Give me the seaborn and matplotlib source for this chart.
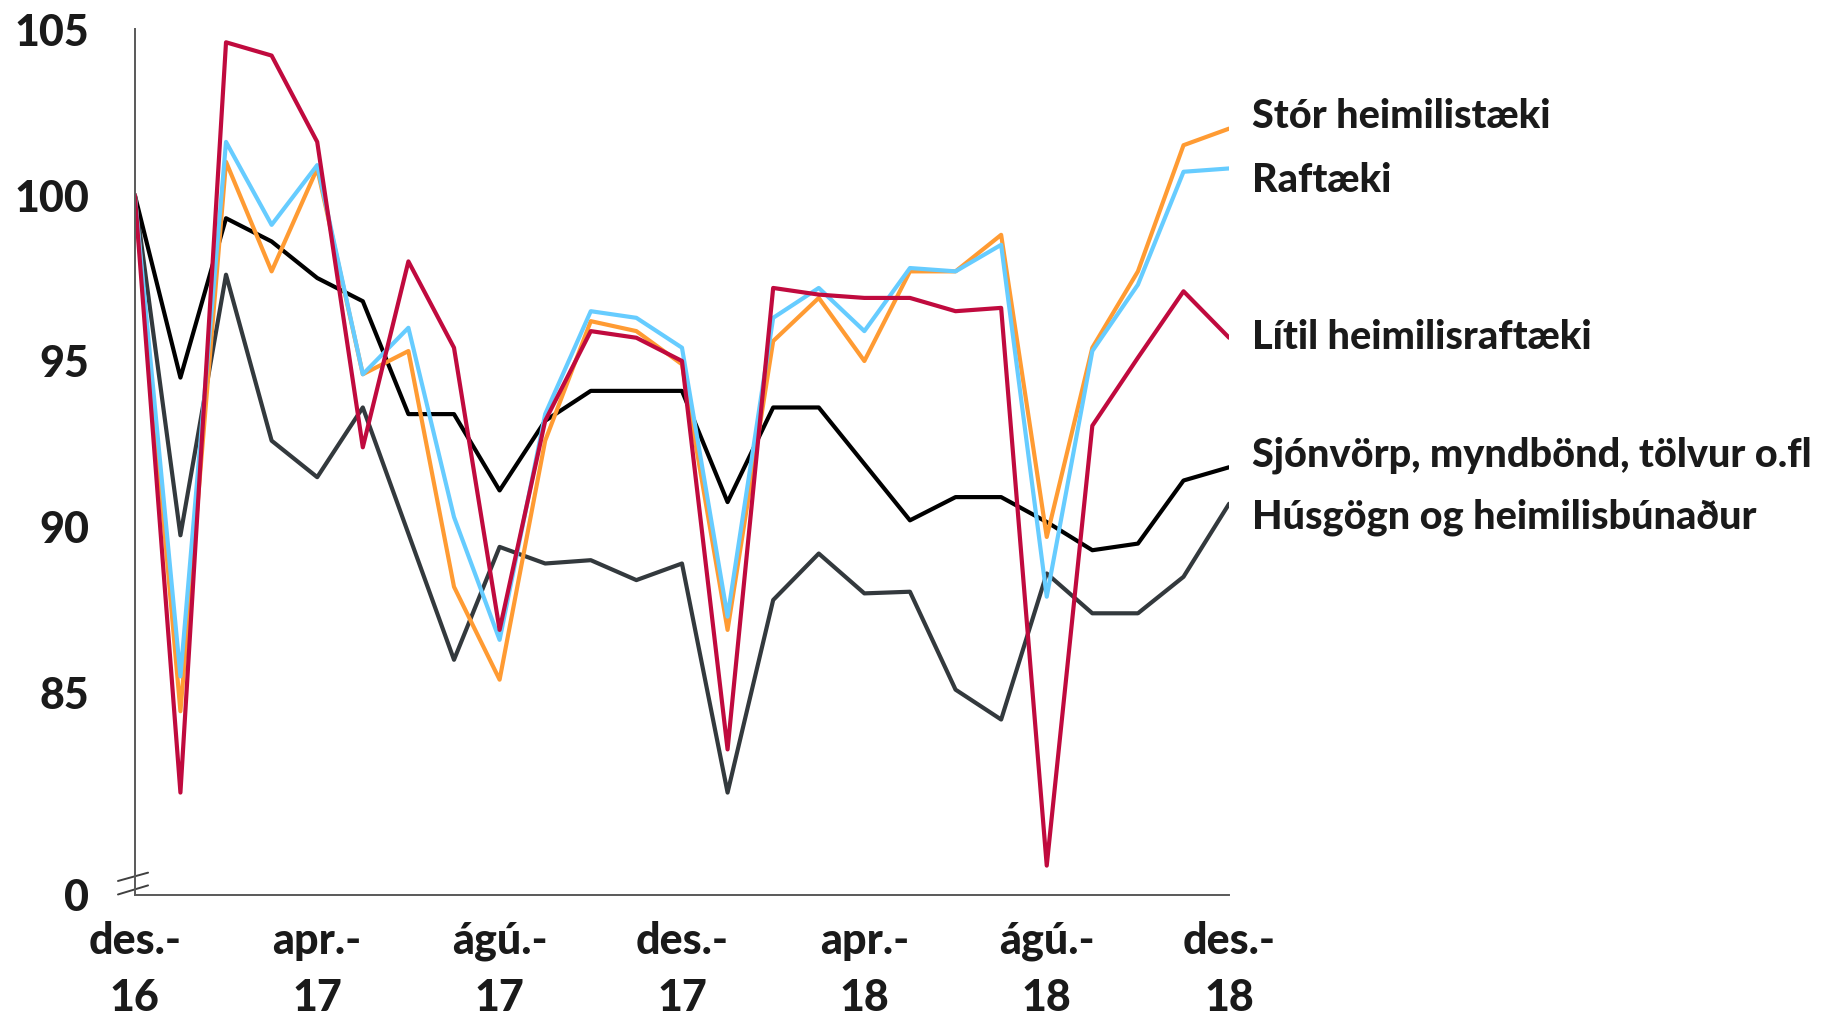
import pandas as pd
import seaborn as sns
import matplotlib.pyplot as plt

# Vísitala, des. 2016 = 100
manudir = list(range(25))
x_merki = ["des.-\n16", "apr.-\n17", "ágú.-\n17", "des.-\n17", "apr.-\n18", "ágú.-\n18", "des.-\n18"]

stor_heimilistaeki = [100, 84.45, 101.0, 97.7, 100.8, 94.6, 95.3, 88.2, 85.4, 92.6, 96.2, 95.9, 94.9,
                      86.9, 95.6, 96.9, 95.0, 97.7, 97.7, 98.8, 89.7, 95.4, 97.7, 101.5, 102.0]
raftaeki = [100, 85.5, 101.6, 99.1, 100.9, 94.6, 96.0, 90.3, 86.6, 93.4, 96.5, 96.3, 95.4,
            87.3, 96.3, 97.2, 95.9, 97.8, 97.7, 98.5, 87.9, 95.3, 97.3, 100.7, 100.8]
litil_heimilisraftaeki = [100, 82.0, 104.6, 104.2, 101.6, 92.4, 98.0, 95.4, 86.9, 93.2, 95.9, 95.7, 95.0,
                          83.3, 97.2, 97.0, 96.9, 96.9, 96.5, 96.6, 79.8, 93.05, 95.1, 97.1, 95.7]
sjonvorp = [100, 94.5, 99.3, 98.6, 97.5, 96.8, 93.4, 93.4, 91.1, 93.2, 94.1, 94.1, 94.1,
            90.75, 93.6, 93.6, 91.9, 90.2, 90.9, 90.9, 90.15, 89.3, 89.5, 91.4, 91.8]
husgogn = [100, 89.75, 97.6, 92.6, 91.5, 93.6, 89.8, 86.0, 89.4, 88.9, 89.0, 88.4, 88.9,
           82.0, 87.8, 89.2, 88.0, 88.05, 85.1, 84.2, 88.6, 87.4, 87.4, 88.5, 90.7]

flokkar = ["Húsgögn og heimilisbúnaður", "Sjónvörp, myndbönd, tölvur o.fl",
           "Stór heimilistæki", "Raftæki", "Lítil heimilisraftæki"]
gildi = [husgogn, sjonvorp, stor_heimilistaeki, raftaeki, litil_heimilisraftaeki]
litir = ["#33393d", "#000000", "#ff9b33", "#66ccff", "#c00a3e"]

# staða merkja hægra megin (gildi á y-ás)
merki_y = [90.3, 92.15, 102.35, 100.45, 95.7]

df = pd.DataFrame({
    "manudur": manudir * len(flokkar),
    "visitala": [v for g in gildi for v in g],
    "flokkur": [f for f in flokkar for _ in manudir],
})

sns.set_theme(style="white")
plt.rcParams["font.family"] = ["Lato", "DejaVu Sans"]
plt.rcParams["font.weight"] = "bold"

fig = plt.figure(figsize=(18.22, 10.18), dpi=100)
ax = fig.add_axes([0.074, 0.121, 0.6006, 0.8505])

sns.lineplot(data=df, x="manudur", y="visitala", hue="flokkur", hue_order=flokkar,
             palette=litir, linewidth=3.0, legend=False, ax=ax)

ax.set_xlim(0, 24)
ymin = 78.92
ax.set_ylim(ymin, 105)
ax.set_yticks([ymin, 85, 90, 95, 100, 105])
ax.set_yticklabels(["0", "85", "90", "95", "100", "105"], fontweight="black")
ax.set_xticks(range(0, 25, 4))
ax.set_xticklabels(x_merki, linespacing=1.5, fontweight="black")
ax.set_xlabel("")
ax.set_ylabel("")

for s in ["top", "right"]:
    ax.spines[s].set_visible(False)
for s in ["left", "bottom"]:
    ax.spines[s].set_color("#595959")
    ax.spines[s].set_linewidth(1.4)

ax.tick_params(axis="y", direction="out", length=11, width=1.4, color="#595959",
               pad=22, labelsize=31, labelcolor="#1a1a1a")
ax.tick_params(axis="x", length=0, pad=19, labelsize=31, labelcolor="#1a1a1a")

# brot á y-ás
for y0, y1 in [(0.016, 0.0256), (0.0004, 0.0109)]:
    ax.plot([-0.0154, 0.0121], [y0, y1], transform=ax.transAxes, color="#404040",
            linewidth=1.4, clip_on=False)

for nafn, yv in zip(flokkar, merki_y):
    ax.text(24.5, yv, nafn, fontsize=28.5, fontweight="black", color="#1a1a1a",
            va="center", ha="left", clip_on=False)

fig.savefig("out.png", dpi=100)
